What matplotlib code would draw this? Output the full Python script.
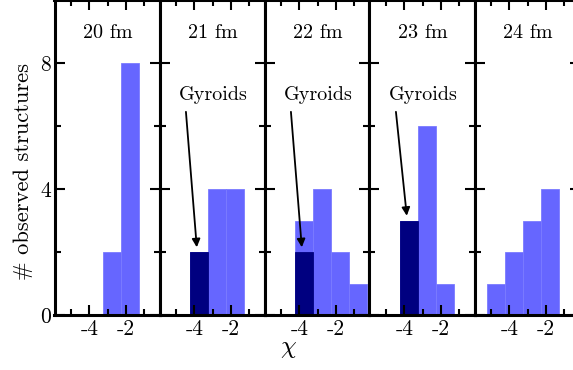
import numpy as np
import matplotlib
matplotlib.use("Agg")
import matplotlib.pyplot as plt

plt.rcParams['font.family'] = ['cmr10', 'DejaVu Serif']
plt.rcParams['mathtext.fontset'] = 'cm'
plt.rcParams['axes.unicode_minus'] = False
plt.rcParams['axes.formatter.use_mathtext'] = False

#======data=========#
labels = ["20 fm", "21 fm", "22 fm", "23 fm", "24 fm"]
bin_edges = [-5.25, -4.25, -3.25, -2.25, -1.25, -0.25]
counts_all = [
    [0, 0, 2, 8, 0],
    [0, 2, 4, 4, 0],
    [0, 3, 4, 2, 1],
    [0, 3, 6, 1, 0],
    [1, 2, 3, 4, 0],
]
counts_gyroid = [
    [0, 0, 0, 0, 0],
    [0, 2, 0, 0, 0],
    [0, 2, 0, 0, 0],
    [0, 3, 0, 0, 0],
    [0, 0, 0, 0, 0],
]
show_arrow = [False, True, True, True, False]

light = '#6666ff'
dark = '#000080'

W, H = 573, 370
fig = plt.figure(figsize=(W/100, H/100), dpi=100)

left0 = 54.5
pw = 105.0
bottom = 315.0

edges = np.array(bin_edges)
widths = np.diff(edges)

for i in range(len(labels)):
    ax = fig.add_axes([(left0 + i*pw)/W, (H - bottom)/H, pw/W, bottom/H])
    ax.bar(edges[:-1], counts_all[i], width=widths, align='edge',
           color=light, edgecolor='#7a7aff', linewidth=0.6)
    g = np.array(counts_gyroid[i])
    ax.bar(edges[:-1], g, width=widths, align='edge',
           color=dark, edgecolor=dark, linewidth=0.6)
    ax.set_xlim(-5.93, -0.13)
    ax.set_ylim(0, 10)
    ax.set_xticks([-4, -2])
    ax.set_xticks([-5, -3, -1], minor=True)
    ax.set_yticks([0, 4, 8])
    ax.set_yticks([2, 6, 10], minor=True)
    ax.tick_params(which='both', direction='in', top=True, right=True,
                   width=1.5, labelsize=15.5)
    ax.tick_params(which='major', length=7, pad=3.5)
    ax.tick_params(which='minor', length=4)
    ax.tick_params(axis='y', pad=2.5)
    if i > 0:
        ax.set_yticklabels([])
    for s in ax.spines.values():
        s.set_linewidth(2.2)
    ax.text(-3.0, 8.95, labels[i], ha='center', va='center', fontsize=14.5)
    if show_arrow[i]:
        k = int(np.argmax(g))
        ax.text(-2.98, 6.98, "Gyroids", ha='center', va='center', fontsize=14.5)
        ax.annotate("", xy=(-3.87, g[k] + 0.15), xytext=(-4.47, 6.45),
                    arrowprops=dict(arrowstyle='-|>', color='k', lw=1.3,
                                    mutation_scale=12, shrinkA=0, shrinkB=0))

fig.text(23/W, 1 - 172/H, "# observed structures", rotation=90,
         ha='center', va='center', fontsize=16.2)
fig.text(288/W, 1 - 349/H, r'$\chi$', ha='center', va='center', fontsize=18)

fig.savefig("out.png", dpi=100)
